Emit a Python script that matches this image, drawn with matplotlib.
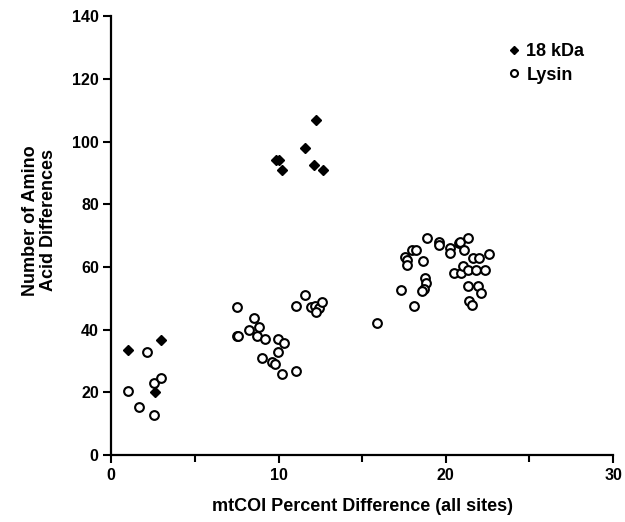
import numpy as np
import matplotlib
matplotlib.use('Agg')
import matplotlib.pyplot as plt
from matplotlib.ticker import MultipleLocator

plt.rcParams['font.family'] = ['Liberation Sans', 'DejaVu Sans']
plt.rcParams['font.weight'] = 'bold'

# 18 kDa protein: mtCOI % difference vs amino acid differences
kda_x = [1.0, 2.96, 2.6, 9.85, 10.05, 10.23, 11.59, 12.23, 12.13, 12.66]
kda_y = [33.5, 36.7, 20.0, 94.0, 94.0, 91.0, 97.9, 106.8, 92.7, 91.0]

# lysin
lysin_x = [2.14, 1.0, 1.65, 2.56, 3.0, 2.56,
           7.5, 8.55, 8.85, 8.23, 7.5, 7.6, 8.69, 9.19, 9.99, 10.33, 9.95,
           8.99, 9.59, 9.79, 10.23, 11.05,
           11.59, 11.05, 11.95, 12.19, 12.4, 12.6, 12.23,
           15.86,
           18.87, 19.6, 19.6, 20.27, 20.23, 20.77, 20.87, 21.3, 21.07,
           21.63, 21.96, 22.6, 17.98, 18.23, 17.57, 17.68, 17.7, 18.63,
           18.77, 18.83, 18.67, 18.57, 17.3, 18.1,
           20.5, 20.9, 21.0, 21.3, 21.83, 22.37,
           21.3, 21.9, 22.1, 21.4, 21.57]
lysin_y = [33.0, 20.5, 15.4, 22.9, 24.6, 12.7,
           47.1, 43.7, 41.0, 39.9, 38.1, 38.1, 38.1, 37.1, 37.1, 35.7, 33.0,
           30.9, 29.6, 29.0, 25.8, 26.8,
           51.1, 47.6, 47.1, 47.7, 46.9, 49.0, 45.8,
           42.2,
           69.2, 68.1, 67.1, 66.0, 64.6, 67.8, 68.1, 69.2, 65.3,
           62.8, 62.8, 64.2, 65.3, 65.3, 63.2, 62.3, 60.7, 61.8,
           56.5, 55.0, 52.9, 52.5, 52.7, 47.6,
           58.1, 58.2, 60.4, 58.9, 58.9, 58.9,
           54.0, 54.0, 51.7, 49.3, 47.9]

fig = plt.figure(figsize=(6.25, 5.22), dpi=100)
ax = fig.add_axes([0.178, 0.128, 0.803, 0.841])

ax.plot(kda_x, kda_y, 'D', color='black', markersize=5.5, linestyle='none',
        label='18 kDa', clip_on=False)
ax.plot(lysin_x, lysin_y, 'o', markerfacecolor='white', markeredgecolor='black',
        markeredgewidth=1.5, markersize=6.3, linestyle='none', label='Lysin',
        clip_on=False)

ax.set_xlim(0, 30)
ax.set_ylim(0, 140)
ax.xaxis.set_major_locator(MultipleLocator(10))
ax.xaxis.set_minor_locator(MultipleLocator(5))
ax.yaxis.set_major_locator(MultipleLocator(20))

for s in ['top', 'right']:
    ax.spines[s].set_visible(False)
for s in ['left', 'bottom']:
    ax.spines[s].set_linewidth(1.6)

ax.tick_params(which='major', direction='out', length=6, width=1.5,
               labelsize=11.5, pad=3)
ax.tick_params(which='minor', direction='out', length=5, width=1.5)
for lab in ax.get_xticklabels() + ax.get_yticklabels():
    lab.set_fontweight('bold')

ax.set_xlabel('mtCOI Percent Difference (all sites)', fontsize=13,
              fontweight='bold', labelpad=11)
ax.set_ylabel('Number of Amino\nAcid Differences', fontsize=13,
              fontweight='bold', linespacing=1.1)
ax.yaxis.set_label_coords(-0.108, 0.535)

leg = ax.legend(loc='upper right', bbox_to_anchor=(0.975, 0.975), frameon=False,
                handletextpad=0.2, handlelength=1.0, labelspacing=0.35,
                markerscale=0.8, prop={'size': 13, 'weight': 'bold'})

fig.savefig('out.png', dpi=100)
